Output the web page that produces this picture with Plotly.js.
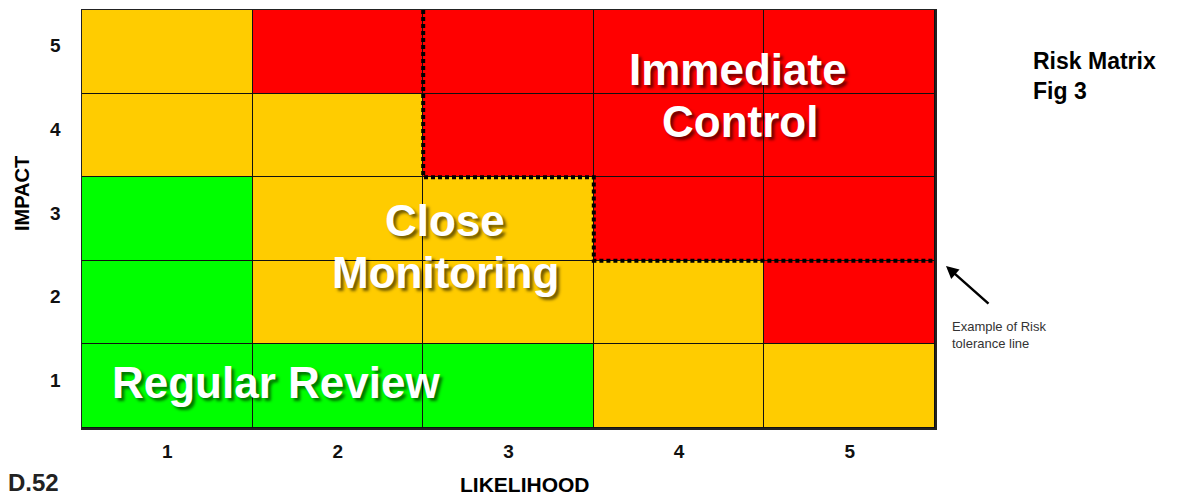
<!DOCTYPE html>
<html>
<head>
<meta charset="utf-8">
<script src="https://cdn.plot.ly/plotly-3.0.1.min.js"></script>
<style>html,body{margin:0;padding:0;background:#fff;}#chart{width:1189px;height:499px;}</style>
</head>
<body>
<div id="chart"></div>
<script>
// Likelihood (x) and Impact (y) categories
const likelihood = [1, 2, 3, 4, 5];
const impact = [1, 2, 3, 4, 5];
// Risk level per cell: 0 = Regular Review (green), 1 = Close Monitoring (amber), 2 = Immediate Control (red)
// rows listed from impact 1 (bottom) to impact 5 (top)
const impact1 = [0, 0, 0, 1, 1];
const impact2 = [0, 1, 1, 1, 2];
const impact3 = [0, 1, 1, 2, 2];
const impact4 = [1, 1, 2, 2, 2];
const impact5 = [1, 2, 2, 2, 2];
// Risk tolerance line (cell-edge coordinates)
const toleranceX = [2.5, 2.5, 3.5, 3.5, 5.5];
const toleranceY = [5.5, 3.5, 3.5, 2.5, 2.5];

const font = 'Arial, "Liberation Sans", sans-serif';

const heat = {
  type: 'heatmap',
  x: likelihood,
  y: impact,
  z: [impact1, impact2, impact3, impact4, impact5],
  zmin: 0, zmax: 2,
  colorscale: [[0, '#00FF00'], [0.3333, '#00FF00'], [0.3333, '#FFCC00'], [0.6667, '#FFCC00'], [0.6667, '#FF0000'], [1, '#FF0000']],
  showscale: false,
  xgap: 1, ygap: 1,
  hoverinfo: 'skip'
};

const tol = {
  type: 'scatter', mode: 'lines',
  x: toleranceX, y: toleranceY,
  line: {color: '#000', width: 4, dash: '4px,3px'},
  cliponaxis: false,
  hoverinfo: 'skip'
};

const bigFont = {family: font, size: 44, color: '#FFFFFF', weight: 'bold', shadow: '3px 3px 3px rgba(0,0,0,0.55)'};

function big(text, x, y) {
  return {xref: 'paper', yref: 'paper', x: x, y: y, xanchor: 'center', yanchor: 'middle',
          text: text, showarrow: false, font: bigFont};
}

const layout = {
  width: 1189, height: 499,
  margin: {l: 82, r: 254, t: 10, b: 71},
  paper_bgcolor: '#FFFFFF',
  plot_bgcolor: '#111111',
  showlegend: false,
  xaxis: {
    range: [0.5, 5.5], tickvals: likelihood, ticktext: likelihood.map(String),
    showgrid: false, zeroline: false, showline: true, mirror: true,
    linecolor: '#222', linewidth: 1.5, ticks: '', ticklabelstandoff: 6,
    tickfont: {family: font, size: 19, color: '#111', weight: 'bold'},
    fixedrange: true
  },
  yaxis: {
    range: [0.5, 5.5], tickvals: impact, ticktext: impact.map(String),
    showgrid: false, zeroline: false, showline: true, mirror: true,
    linecolor: '#222', linewidth: 1.5, ticks: '', ticklabelstandoff: 16,
    ticklabelshift: -6,
    tickfont: {family: font, size: 19, color: '#111', weight: 'bold'},
    fixedrange: true
  },
  annotations: [
    big('Immediate', 0.7691, 0.8565),
    big('Control', 0.7714, 0.7321),
    big('Close', 0.4256, 0.4976),
    big('Monitoring', 0.4256, 0.3732),
    big('Regular Review', 0.2274, 0.110),
    {xref: 'paper', yref: 'paper', x: 1.1125, y: 0.842, xanchor: 'left', yanchor: 'middle', align: 'left',
     text: 'Risk Matrix<br>Fig 3', showarrow: false, font: {family: font, size: 23, color: '#000', weight: 'bold'}},
    {xref: 'paper', yref: 'paper', x: 1.017, y: 0.222, xanchor: 'left', yanchor: 'middle', align: 'left',
     text: 'Example of Risk<br>tolerance line', showarrow: false, font: {family: font, size: 13, color: '#333'}},
    {xref: 'paper', yref: 'paper', x: 1.0129, y: 0.3876, text: '', showarrow: true, ax: 44, ay: 39,
     arrowhead: 2, arrowsize: 1, arrowwidth: 2.5, arrowcolor: '#000'},
    {xref: 'paper', yref: 'paper', x: -0.0703, y: 0.5598, xanchor: 'center', yanchor: 'middle',
     text: 'IMPACT', textangle: -90, showarrow: false,
     font: {family: font, size: 20, color: '#000', weight: 'bold'}},
    {xref: 'paper', yref: 'paper', x: 0.5193, y: -0.134, xanchor: 'center', yanchor: 'middle',
     text: 'LIKELIHOOD', showarrow: false,
     font: {family: font, size: 21, color: '#000', weight: 'bold'}},
    {xref: 'paper', yref: 'paper', x: -0.0891, y: -0.1675, xanchor: 'left', yanchor: 'bottom',
     text: 'D.52', showarrow: false,
     font: {family: font, size: 24, color: '#222', weight: 'bold'}}
  ]
};

Plotly.newPlot('chart', [heat, tol], layout, {staticPlot: true, displayModeBar: false});
</script>
</body>
</html>
